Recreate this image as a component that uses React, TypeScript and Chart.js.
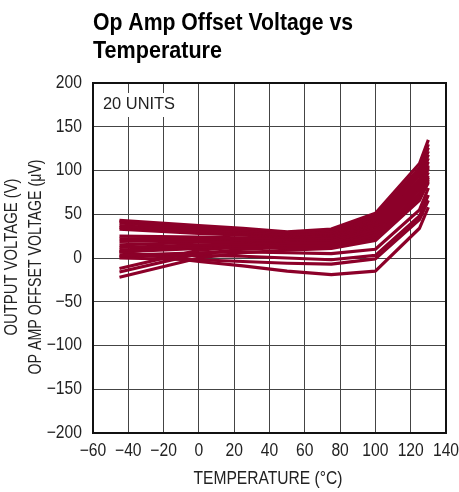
import React, { useEffect, useRef } from "react";
import { Chart, registerables } from "chart.js";

Chart.register(...registerables);

const titleLines = ["Op Amp Offset Voltage vs", "Temperature"];
const xAxisTitle = "TEMPERATURE (°C)";
const yAxisTitle = "OP AMP OFFSET VOLTAGE (μV)";
const yAxisTitle2 = "OUTPUT VOLTAGE (V)";
const noteText = "20 UNITS";

const temperatures = [-45, 0, 25, 50, 75, 100, 125, 130];

const unit01 = [43, 37, 34, 30, 33, 51, 108, 135];
const unit02 = [42, 35, 32, 29, 31, 48, 103, 130];
const unit03 = [40, 33, 30, 27, 29, 46, 100, 126];
const unit04 = [37, 31, 29, 26, 28, 44, 97, 122];
const unit05 = [35, 30, 28, 25, 26, 42, 94, 118];
const unit06 = [33, 28, 26, 24, 25, 40, 90, 114];
const unit07 = [25, 24, 23, 22, 23, 38, 88, 110];
const unit08 = [22, 22, 21, 20, 21, 36, 85, 106];
const unit09 = [19, 20, 20, 19, 19, 33, 82, 102];
const unit10 = [15, 18, 18, 17, 17, 30, 78, 98];
const unit11 = [12, 15, 16, 15, 15, 27, 74, 94];
const unit12 = [9, 13, 14, 14, 14, 25, 71, 90];
const unit13 = [7, 11, 12, 12, 12, 22, 68, 86];
const unit14 = [-12, 9, 13, 14, 16, 30, 80, 104];
const unit15 = [-16, 5, 10, 12, 13, 24, 70, 92];
const unit16 = [-22, 0, 6, 9, 11, 20, 66, 88];
const unit17 = [3, 6, 7, 6, 5, 10, 55, 80];
const unit18 = [2, 3, 2, 0, -2, 3, 48, 72];
const unit19 = [0, -2, -4, -6, -7, -1, 44, 66];
const unit20 = [7, -4, -9, -15, -19, -15, 34, 58];

const units = [
  unit01, unit02, unit03, unit04, unit05, unit06, unit07, unit08, unit09, unit10,
  unit11, unit12, unit13, unit14, unit15, unit16, unit17, unit18, unit19, unit20,
];

const LINE_COLOR = "#8c0029";
const FONT = "'Liberation Sans', Arial, sans-serif";

const fmt = (v: any) => String(v).replace("-", "\u2212");

function drawFitted(ctx: any, text: string, x: number, y: number, scaleX: number, align: string) {
  ctx.save();
  ctx.translate(x, y);
  ctx.scale(scaleX, 1);
  ctx.textAlign = align;
  ctx.fillText(text, 0, 0);
  ctx.restore();
}

function drawToWidth(ctx: any, text: string, x: number, y: number, width: number, align: string) {
  const w = ctx.measureText(text).width;
  drawFitted(ctx, text, x, y, width / w, align);
}

const decorPlugin = {
  id: "decor",
  afterDraw(chart: any) {
    const ctx = chart.ctx;
    const a = chart.chartArea;
    ctx.save();
    // border
    ctx.strokeStyle = "#111";
    ctx.lineWidth = 2;
    ctx.strokeRect(a.left, a.top, a.right - a.left, a.bottom - a.top);
    // tick labels via scales
    const TS = 0.87;
    ctx.font = `18px ${FONT}`;
    ctx.fillStyle = "#222";
    ctx.textBaseline = "middle";
    const xs = chart.scales.x;
    xs.ticks.forEach((t: any) => {
      const px = xs.getPixelForValue(t.value);
      drawFitted(ctx, fmt(t.value), px, 451, TS, "center");
    });
    const ys = chart.scales.y;
    ys.ticks.forEach((t: any) => {
      const py = ys.getPixelForValue(t.value);
      drawFitted(ctx, fmt(t.value), 82, py, TS, "right");
    });
    // note box
    ctx.font = `17px ${FONT}`;
    ctx.fillStyle = "#fff";
    ctx.fillRect(a.left + 6, a.top + 10, 80, 24);
    ctx.fillStyle = "#222";
    ctx.textBaseline = "middle";
    drawToWidth(ctx, noteText, a.left + 10, a.top + 21, 72, "left");
    // title
    ctx.fillStyle = "#000";
    ctx.font = `bold 24px ${FONT}`;
    ctx.textBaseline = "alphabetic";
    drawToWidth(ctx, titleLines[0], a.left, 30, 260, "left");
    drawToWidth(ctx, titleLines[1], a.left, 58, 129, "left");
    // x axis title
    ctx.font = `18px ${FONT}`;
    ctx.fillStyle = "#222";
    ctx.textBaseline = "middle";
    drawToWidth(ctx, xAxisTitle, 268, 479, 149, "center");
    // y axis titles
    ctx.save();
    ctx.translate(36, 267);
    ctx.rotate(-Math.PI / 2);
    drawToWidth(ctx, yAxisTitle, 0, 0, 215, "center");
    ctx.restore();
    ctx.save();
    ctx.translate(12, 257);
    ctx.rotate(-Math.PI / 2);
    drawToWidth(ctx, yAxisTitle2, 0, 0, 157, "center");
    ctx.restore();
    ctx.restore();
  },
};

export default function App() {
  const ref = useRef<HTMLCanvasElement | null>(null);
  useEffect(() => {
    if (!ref.current) return;
    const datasets = units.map((u) => ({
      data: u.map((v, i) => ({ x: temperatures[i], y: v })),
      borderColor: LINE_COLOR,
      backgroundColor: LINE_COLOR,
      borderWidth: 3.2,
      pointRadius: 0,
      tension: 0,
      fill: false,
      borderJoinStyle: "round" as const,
    }));
    const chart = new Chart(ref.current, {
      type: "line",
      data: { datasets },
      options: {
        animation: false,
        responsive: false,
        maintainAspectRatio: false,
        layout: { padding: { left: 0, top: 83, right: 13, bottom: 0 } },
        plugins: { legend: { display: false }, tooltip: { enabled: false }, title: { display: false } },
        scales: {
          x: {
            type: "linear",
            min: -60,
            max: 140,
            ticks: { stepSize: 20, display: false },
            grid: { color: "#444", lineWidth: 1, drawTicks: false },
            border: { display: false },
            afterFit: (s: any) => { s.height = 59; },
          },
          y: {
            type: "linear",
            min: -200,
            max: 200,
            ticks: { stepSize: 50, display: false },
            grid: { color: "#444", lineWidth: 1, drawTicks: false },
            border: { display: false },
            afterFit: (s: any) => { s.width = 93; },
          },
        },
      },
      plugins: [decorPlugin],
    });
    return () => chart.destroy();
  }, []);
  return (
    <div style={{ position: "absolute", left: 0, top: 0, width: 459, height: 492, background: "#fff" }}>
      <canvas ref={ref} width={459} height={492} style={{ width: 459, height: 492 }} />
    </div>
  );
}
